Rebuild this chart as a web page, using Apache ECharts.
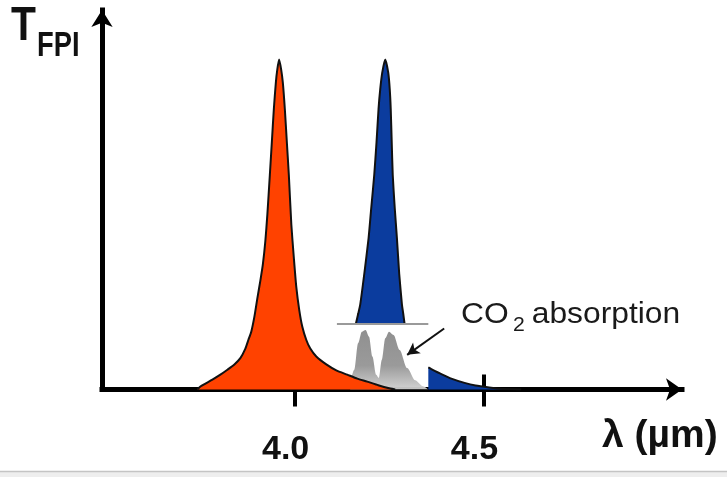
<!DOCTYPE html>
<html>
<head>
<meta charset="utf-8">
<script src="https://cdn.jsdelivr.net/npm/echarts@6/dist/echarts.min.js"></script>
<style>
html,body{margin:0;padding:0;background:#fff;}
#chart{width:727px;height:477px;}
</style>
</head>
<body>
<div id="chart"></div>
<script>
// ---- data (wavelength in µm, transmission normalised to peak = 1) ----
const redLambda = [3.7426, 3.7505, 3.7638, 3.7823, 3.8034, 3.8220, 3.8405, 3.8563, 3.8696, 3.8775, 3.8854, 3.8934, 3.9013, 3.9093, 3.9159, 3.9225, 3.9278, 3.9344, 3.9397, 3.9450, 3.9503, 3.9542, 3.9589, 3.9643, 3.9688, 3.9741, 3.9794, 3.9847, 3.9913, 3.9979, 4.0045, 4.0124, 4.0204, 4.0310, 4.0415, 4.0574, 4.0839, 4.1103, 4.1394, 4.1659, 4.1923, 4.2214, 4.2532, 4.2664];
const redT      = [0, 0.009, 0.018, 0.030, 0.045, 0.060, 0.076, 0.095, 0.124, 0.150, 0.176, 0.220, 0.276, 0.330, 0.379, 0.450, 0.530, 0.650, 0.750, 0.850, 0.930, 0.970, 1.0, 0.970, 0.930, 0.850, 0.750, 0.650, 0.500, 0.400, 0.310, 0.240, 0.190, 0.150, 0.124, 0.100, 0.076, 0.058, 0.045, 0.033, 0.024, 0.013, 0.003, 0];

const bluePeakLambda = [4.1624, 4.1685, 4.1738, 4.1844, 4.1958, 4.2029, 4.2108, 4.2169, 4.2222, 4.2267, 4.2320, 4.2399, 4.2479, 4.2519, 4.2545, 4.2571, 4.2598, 4.2651, 4.2709, 4.2770, 4.2841, 4.2876, 4.2910];
const bluePeakT      = [0.2, 0.23, 0.258, 0.35, 0.458, 0.55, 0.65, 0.75, 0.85, 0.91, 0.96, 1.0, 0.96, 0.91, 0.85, 0.75, 0.65, 0.55, 0.458, 0.35, 0.258, 0.23, 0.2];
const blueCutLevel = 0.2;

const blueTailLambda = [4.354, 4.362, 4.390, 4.415, 4.450, 4.479, 4.515, 4.545, 4.600];
const blueTailT      = [0.067, 0.062, 0.046, 0.033, 0.020, 0.012, 0.006, 0.002, 0];

const co2Lambda = [4.147, 4.158, 4.168, 4.178, 4.188, 4.197, 4.206, 4.216, 4.223, 4.231, 4.240, 4.250, 4.262, 4.278, 4.298, 4.319, 4.340, 4.354];
const co2T      = [0.02, 0.06, 0.14, 0.175, 0.18, 0.16, 0.10, 0.045, 0.035, 0.09, 0.155, 0.175, 0.165, 0.12, 0.065, 0.028, 0.01, 0];
const cutLineLambda = [4.112, 4.354];
const arrowFrom = [4.396, 0.185];
const arrowTo   = [4.298, 0.105];

const tickValues = [4.0, 4.5];
const tickLabels = ['4.0', '4.5'];

const xMin = 3.49, xMax = 5.0257, yMax = 1.15;

const zip = (a, b) => a.map((v, i) => [v, b[i]]);

const sans = '"Liberation Sans", Arial, sans-serif';

const chart = echarts.init(document.getElementById('chart'), null, {renderer: 'canvas'});

const axisLineStyle = {color: '#000', width: 5, cap: 'square'};
const outline = {color: '#111', width: 2};

chart.setOption({
  animation: false,
  backgroundColor: '#fff',
  grid: {left: 102, right: 45, top: 10, bottom: 87.5, containLabel: false},
  xAxis: [{
    type: 'value', min: xMin, max: xMax,
    axisLine: {show: true, onZero: false, symbol: ['none', 'arrow'], symbolSize: [17, 16], lineStyle: axisLineStyle},
    axisTick: {show: true, customValues: tickValues, length: 17, inside: false, lineStyle: {color: '#000', width: 4}},
    axisLabel: {
      show: true, customValues: tickValues, margin: 43,
      formatter: v => tickLabels[tickValues.indexOf(v)],
      fontFamily: sans, fontWeight: 'bold', fontSize: 34, color: '#111',
      padding: [0, 18, 0, 0]
    },
    splitLine: {show: false}
  }, {
    type: 'value', min: xMin, max: xMax, position: 'bottom',
    axisLine: {show: false},
    axisTick: {show: true, customValues: tickValues, length: 15, inside: true, lineStyle: {color: '#000', width: 4}},
    axisLabel: {show: false},
    splitLine: {show: false}
  }],
  yAxis: {
    type: 'value', min: 0, max: yMax,
    axisLine: {show: true, onZero: false, symbol: ['none', 'arrow'], symbolSize: [16, 17], lineStyle: axisLineStyle},
    axisTick: {show: false},
    axisLabel: {show: false},
    splitLine: {show: false}
  },
  series: [
    {
      name: 'CO2', type: 'line', z: 1,
      data: zip(co2Lambda, co2T),
      smooth: 0.3, smoothMonotone: 'x', showSymbol: false,
      lineStyle: {width: 0},
      areaStyle: {
        opacity: 0.95,
        color: {type: 'linear', x: 0, y: 0, x2: 0, y2: 1, colorStops: [
          {offset: 0, color: '#8a8a8a'}, {offset: 0.6, color: '#959595'}, {offset: 1, color: '#d0d0d0'}
        ]}
      },
      markLine: {
        silent: true, animation: false,
        label: {show: false},
        data: [
          [{coord: [cutLineLambda[0], blueCutLevel], symbol: 'none', lineStyle: {color: '#9a9a9a', width: 2, type: 'solid'}},
           {coord: [cutLineLambda[1], blueCutLevel], symbol: 'none'}],
          [{coord: arrowFrom, symbol: 'none', lineStyle: {color: '#111', width: 2, type: 'solid'}},
           {coord: arrowTo, symbol: 'arrow', symbolSize: [10, 12]}]
        ]
      }
    },
    {
      name: 'red', type: 'line', z: 2,
      data: zip(redLambda, redT),
      smooth: 0.2, showSymbol: false,
      lineStyle: outline,
      areaStyle: {color: '#ff4200', opacity: 1}
    },
    {
      name: 'bluePeak', type: 'line', z: 3,
      data: zip(bluePeakLambda, bluePeakT),
      smooth: 0.2, showSymbol: false,
      lineStyle: outline,
      areaStyle: {color: '#0b3c9e', opacity: 1, origin: blueCutLevel}
    },
    {
      name: 'blueTail', type: 'line', z: 3,
      data: zip(blueTailLambda, blueTailT),
      smooth: 0.2, showSymbol: false,
      lineStyle: outline,
      areaStyle: {color: '#0b3c9e', opacity: 1}
    }
  ],
  graphic: [
    {type: 'rect', shape: {x: 0, y: 472, width: 727, height: 5}, style: {fill: '#eeeeee'}, z: 0},
    {type: 'line', shape: {x1: 0, y1: 471.5, x2: 727, y2: 471.5}, style: {stroke: '#c4c4c4', lineWidth: 1.5}, z: 0},
    {type: 'group', x: 11, y: 0, scaleX: 0.85, children: [
      {type: 'text', x: 0, y: 3, style: {text: 'T', font: 'bold 48px ' + sans, fill: '#111', verticalAlign: 'top'}}
    ]},
    {type: 'group', x: 37, y: 0, scaleX: 0.78, children: [
      {type: 'text', x: 0, y: 29, style: {text: 'FPI', font: 'bold 35px ' + sans, fill: '#111', verticalAlign: 'top'}}
    ]},
    {type: 'text', x: 602, y: 417, style: {text: 'λ (µm)', font: 'bold 39px ' + sans, fill: '#111', verticalAlign: 'top'}},
    {type: 'group', x: 461, y: 0, scaleX: 1.06, children: [
      {type: 'text', x: 0, y: 299.5, style: {text: 'CO', font: '30px ' + sans, fill: '#1a1a1a', verticalAlign: 'top'}},
      {type: 'text', x: 49, y: 315.5, style: {text: '2', font: '20px ' + sans, fill: '#1a1a1a', verticalAlign: 'top'}},
      {type: 'text', x: 66.7, y: 299.5, style: {text: 'absorption', font: '30px ' + sans, fill: '#1a1a1a', verticalAlign: 'top'}}
    ]}
  ]
});
</script>
</body>
</html>
